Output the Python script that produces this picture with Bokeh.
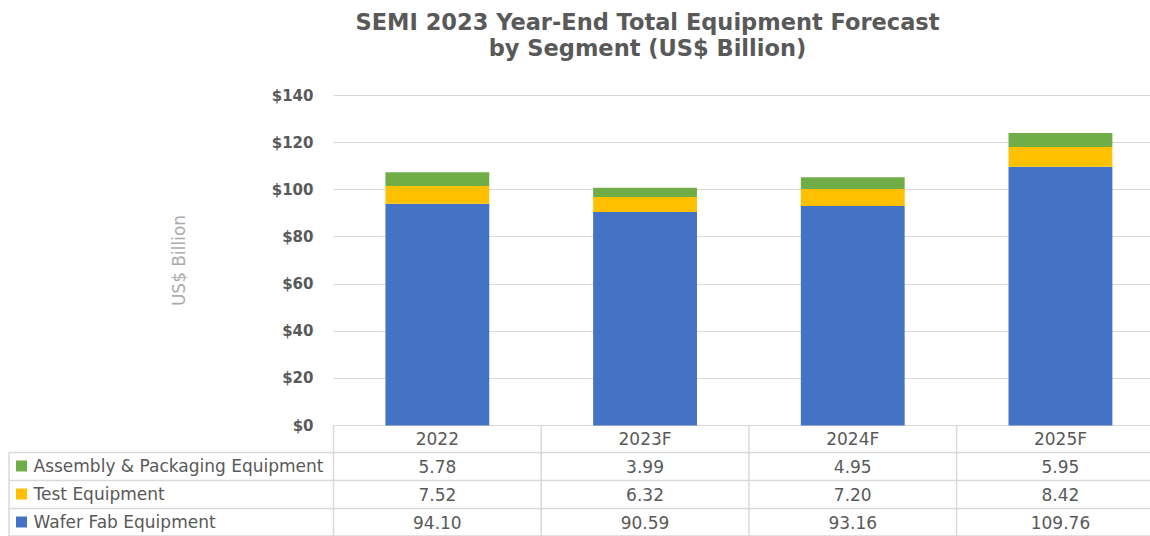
from bokeh.plotting import figure
from bokeh.models import ColumnDataSource, Range1d, FixedTicker, PrintfTickFormatter, Label
from bokeh.core.properties import value
from bokeh.embed import file_html
from bokeh.resources import INLINE

# ---------------- data ----------------
categories = ["2022", "2023F", "2024F", "2025F"]
series_labels = ["Assembly & Packaging Equipment", "Test Equipment", "Wafer Fab Equipment"]
assembly_packaging = [5.78, 3.99, 4.95, 5.95]
test_equipment = [7.52, 6.32, 7.20, 8.42]
wafer_fab = [94.10, 90.59, 93.16, 109.76]
y_ticks = [0, 20, 40, 60, 80, 100, 120, 140]
title_lines = ["SEMI 2023 Year-End Total Equipment Forecast", "by Segment (US$ Billion)"]
y_label = "US$ Billion"

# ---------------- style / geometry ----------------
GREEN, YELLOW, BLUE = "#70AD47", "#FFC000", "#4472C4"
TXT = "#595959"
GRID = "#d9d9d9"
FONT = "DejaVu Sans"

W, H = 1150, 536
X0 = 333          # px of first category column's left edge
Y0 = 425          # px of the $0 baseline
COL = 207.7       # px per category column
S = 330 / 140     # px per US$ billion


def px_x(px):     # horizontal pixel -> data x
    return (px - X0) / COL


def px_y(py):     # vertical pixel (from top) -> data y
    return (Y0 - py) / S


n = len(categories)
xc = [i + 0.5 for i in range(n)]

p = figure(width=W, height=H, x_range=Range1d(px_x(0), px_x(W)), y_range=Range1d(px_y(H), px_y(0)),
           x_axis_location=None, y_axis_location="left", toolbar_location=None,
           output_backend="svg", min_border=0, outline_line_color=None)

# ---------------- title ----------------
for text, yb in zip(title_lines, [21, 47]):
    p.add_layout(Label(x=px_x(647), y=px_y(yb), text=text, text_align="center",
                       text_baseline="alphabetic", text_font=FONT, text_font_size="22.5px",
                       text_font_style="bold", text_color=TXT))

# ---------------- bars ----------------
src = ColumnDataSource(dict(x=xc, cat=categories, wafer=wafer_fab,
                            test=test_equipment, assembly=assembly_packaging))
p.vbar_stack(["wafer", "test", "assembly"], x="x", width=0.5, source=src,
             fill_color=[BLUE, YELLOW, GREEN], line_color=None)

# ---------------- y axis & grid ----------------
ticker = FixedTicker(ticks=y_ticks, minor_ticks=[])
ax = p.yaxis[0]
ax.fixed_location = 0
ax.bounds = (y_ticks[0], y_ticks[-1])
ax.ticker = ticker
ax.formatter = PrintfTickFormatter(format="$%d")
ax.axis_line_color = None
ax.major_tick_line_color = None
ax.minor_tick_line_color = None
ax.major_tick_out = 0
ax.major_tick_in = 0
ax.major_label_standoff = 20
ax.major_label_text_font = FONT
ax.major_label_text_font_size = "15px"
ax.major_label_text_font_style = "bold"
ax.major_label_text_color = TXT
ax.axis_label = y_label
ax.axis_label_text_font = FONT
ax.axis_label_text_font_size = "17px"
ax.axis_label_text_font_style = "normal"
ax.axis_label_text_color = "#ababab"
ax.axis_label_standoff = 80

p.ygrid.ticker = ticker
p.ygrid.grid_line_color = GRID
p.ygrid.grid_line_width = 1
p.ygrid.cross_bounds = (0, px_x(W))
p.xgrid.visible = False

# ---------------- data table ----------------
LINE_W = 1.5
# header row (category names)
p.text(x="x", y=px_y(438), text="cat", source=src, text_align="center", text_baseline="middle",
       text_font=value(FONT), text_font_size="17px", text_color=TXT)

row_y = [px_y(465.5), px_y(493.5), px_y(521.5)]
row_series = [assembly_packaging, test_equipment, wafer_fab]
row_colors = [GREEN, YELLOW, BLUE]

cx, cy, ct = [], [], []
for r, vals in enumerate(row_series):
    for i, v in enumerate(vals):
        cx.append(xc[i])
        cy.append(row_y[r])
        ct.append(f"{v:.2f}")
p.text(x=cx, y=cy, text=ct, text_align="center", text_baseline="middle",
       text_font=value(FONT), text_font_size="17px", text_color=TXT)

p.text(x=[px_x(33)] * 3, y=row_y, text=series_labels, text_align="left", text_baseline="middle",
       text_font=value(FONT), text_font_size="17px", text_color=TXT)
p.scatter(x=[px_x(21)] * 3, y=row_y, marker="square", size=11, fill_color=row_colors, line_color=None)

xl = px_x(8.5)
hy = [px_y(452), px_y(480), px_y(508), px_y(535.5)]
p.segment(x0=[xl] * len(hy), y0=hy, x1=[px_x(W + 20)] * len(hy), y1=hy,
          line_color=GRID, line_width=LINE_W)
p.segment(x0=[xl], y0=[px_y(452)], x1=[xl], y1=[px_y(H + 5)], line_color=GRID, line_width=LINE_W)
p.segment(x0=list(range(n)), y0=[0] * n, x1=list(range(n)), y1=[px_y(H + 5)] * n,
          line_color=GRID, line_width=LINE_W)

open("out.html", "w").write(file_html(p, INLINE))
